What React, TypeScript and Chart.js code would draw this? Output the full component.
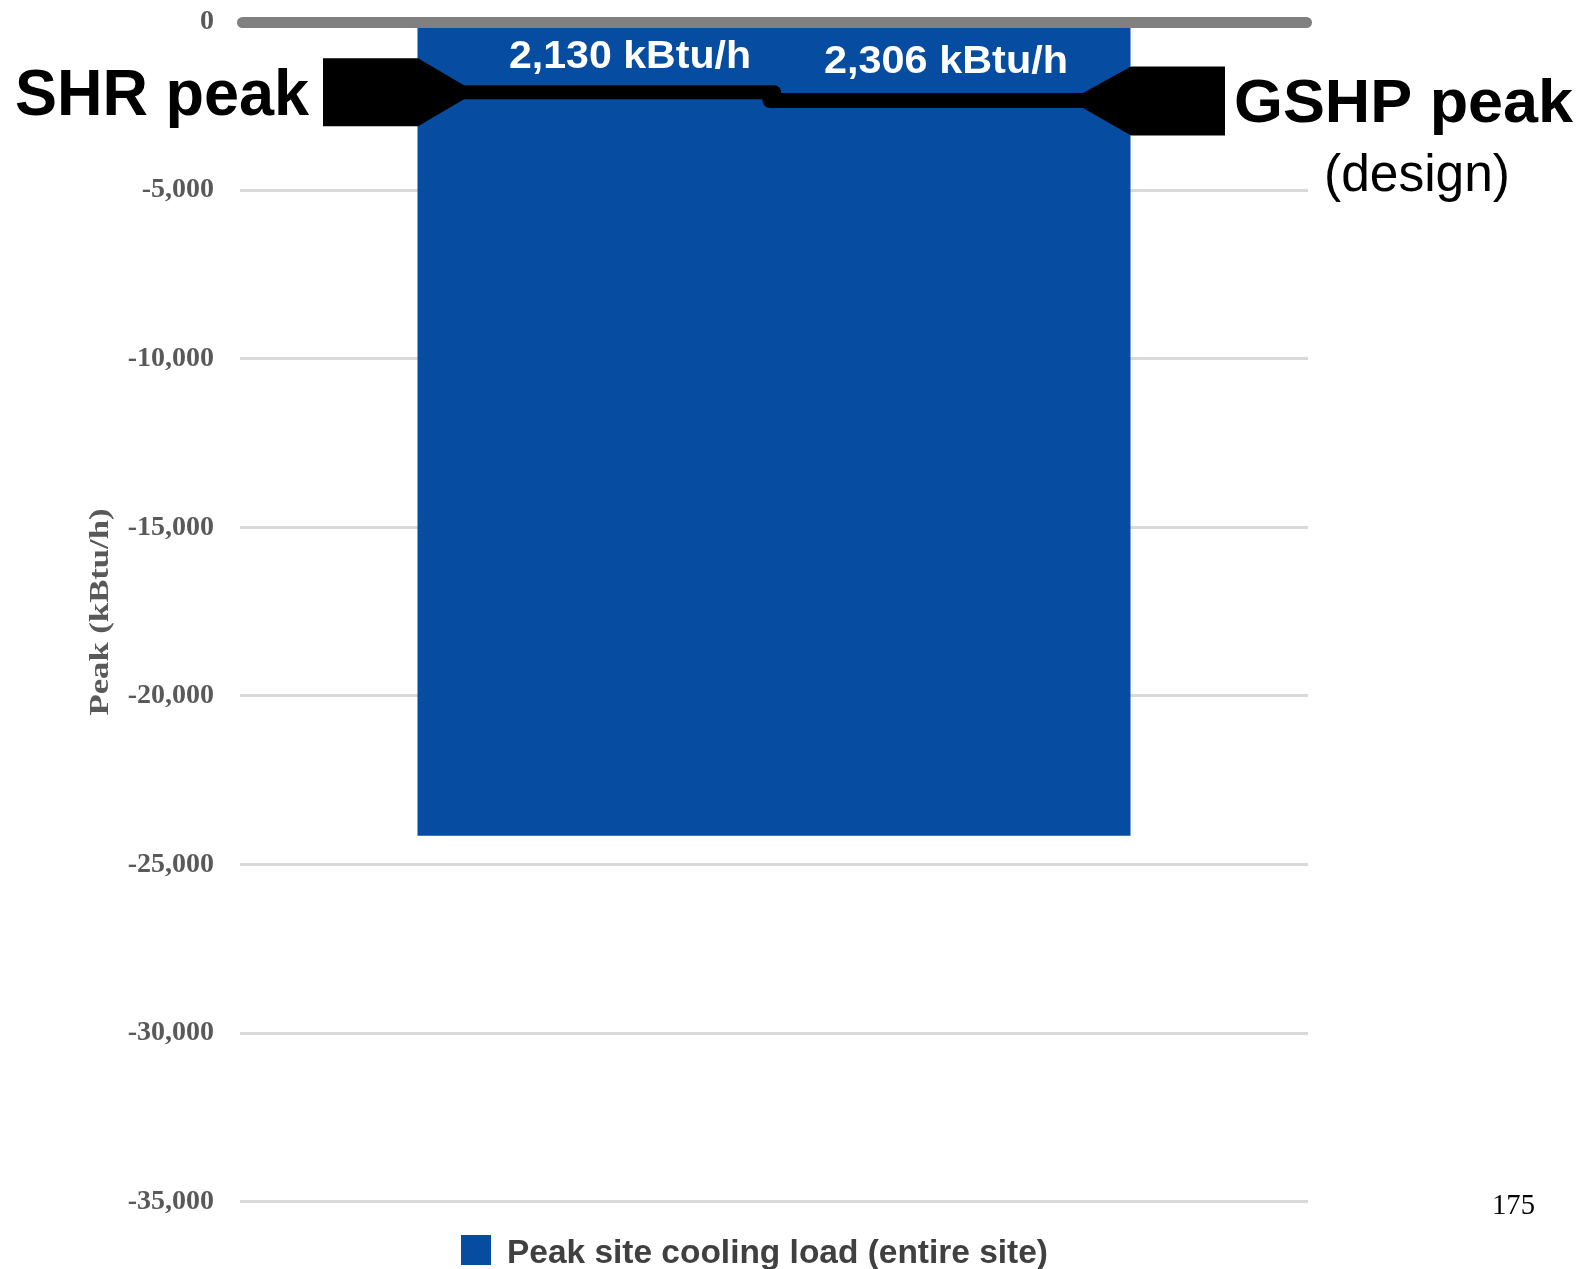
import React, { useEffect, useRef } from "react";
import { Chart, registerables } from "chart.js";

Chart.register(...registerables);

// ---- Data ----
const categories = ["Peak site cooling load (entire site)"];
const seriesLabel = "Peak site cooling load (entire site)";
const seriesValues = [-24150];
const yMin = -35000;
const yMax = 0;
const yStep = 5000;
const yTitle = "Peak (kBtu/h)";

const peakNames = ["SHR peak", "GSHP peak"];
const peakValues = [-2130, -2306];
const peakValueLabels = ["2,130 kBtu/h", "2,306 kBtu/h"];
const peakNote = "(design)";
const pageNumber = "175";

const BAR_COLOR = "#064ca0";

function fitText(
  ctx: CanvasRenderingContext2D,
  text: string,
  x: number,
  y: number,
  width: number,
  font: string,
  color: string
) {
  ctx.save();
  ctx.font = font;
  ctx.fillStyle = color;
  ctx.textAlign = "left";
  ctx.textBaseline = "alphabetic";
  const w = ctx.measureText(text).width;
  ctx.translate(x, y);
  ctx.scale(width / w, 1);
  ctx.fillText(text, 0, 0);
  ctx.restore();
}

const overlayPlugin = {
  id: "overlay",
  afterDatasetsDraw(chart: any) {
    const ctx: CanvasRenderingContext2D = chart.ctx;
    const ys = chart.scales.y;
    const area = chart.chartArea;

    // zero line
    const y0 = ys.getPixelForValue(0);
    ctx.save();
    ctx.strokeStyle = "#808080";
    ctx.lineWidth = 11;
    ctx.lineCap = "round";
    ctx.beginPath();
    ctx.moveTo(area.left + 2.5, y0 + 1);
    ctx.lineTo(area.right - 1.5, y0 + 1);
    ctx.stroke();
    ctx.restore();

    // SHR peak arrow (left)
    const yS = ys.getPixelForValue(peakValues[0]) - 1;
    ctx.save();
    ctx.fillStyle = "#000";
    ctx.beginPath();
    ctx.moveTo(323, yS - 34);
    ctx.lineTo(418, yS - 34);
    ctx.lineTo(464, yS - 7);
    ctx.lineTo(464, yS + 7);
    ctx.lineTo(418, yS + 34);
    ctx.lineTo(323, yS + 34);
    ctx.closePath();
    ctx.fill();
    ctx.strokeStyle = "#000";
    ctx.lineWidth = 14;
    ctx.lineCap = "round";
    ctx.beginPath();
    ctx.moveTo(460, yS);
    ctx.lineTo(774, yS);
    ctx.stroke();

    // GSHP peak arrow (right)
    const yG = ys.getPixelForValue(peakValues[1]) + 1.2;
    ctx.beginPath();
    ctx.moveTo(1225, yG - 34);
    ctx.lineTo(1131, yG - 34);
    ctx.lineTo(1083, yG - 7.5);
    ctx.lineTo(1083, yG + 7.5);
    ctx.lineTo(1131, yG + 35);
    ctx.lineTo(1225, yG + 35);
    ctx.closePath();
    ctx.fill();
    ctx.lineWidth = 15;
    ctx.beginPath();
    ctx.moveTo(770, yG);
    ctx.lineTo(1087, yG);
    ctx.stroke();
    ctx.restore();

    // value labels
    fitText(ctx, peakValueLabels[0], 509, 68, 242, "bold 38px 'Liberation Sans', Arial", "#ffffff");
    fitText(ctx, peakValueLabels[1], 824, 73, 244, "bold 38px 'Liberation Sans', Arial", "#ffffff");

    // names
    fitText(ctx, peakNames[0], 15, 115, 294, "bold 64px 'Liberation Sans', Arial", "#000000");
    fitText(ctx, peakNames[1], 1234, 122, 339, "bold 62px 'Liberation Sans', Arial", "#000000");
    fitText(ctx, peakNote, 1324, 191, 186, "51px 'Liberation Sans', Arial", "#000000");
  },
  afterDraw(chart: any) {
    const ctx: CanvasRenderingContext2D = chart.ctx;

    // y axis title (rotated)
    ctx.save();
    ctx.font = "bold 28px 'Liberation Serif', 'Times New Roman', serif";
    const tw = ctx.measureText(yTitle).width;
    ctx.translate(101, 612);
    ctx.rotate(-Math.PI / 2);
    ctx.scale(207 / tw, 1);
    ctx.fillStyle = "#595959";
    ctx.textAlign = "center";
    ctx.textBaseline = "middle";
    ctx.fillText(yTitle, 0, 0);
    ctx.restore();

    // legend
    ctx.save();
    ctx.fillStyle = BAR_COLOR;
    ctx.fillRect(461, 1235, 30, 30);
    ctx.restore();
    fitText(ctx, seriesLabel, 507, 1263, 541, "bold 34px 'Liberation Sans', Arial", "#404040");

    // page number
    fitText(ctx, pageNumber, 1492, 1214, 43, "30px 'Liberation Serif', 'Times New Roman', serif", "#000000");
  },
};

export default function App() {
  const canvasRef = useRef<HTMLCanvasElement | null>(null);

  useEffect(() => {
    const canvas = canvasRef.current;
    if (!canvas) return;
    const chart = new Chart(canvas, {
      type: "bar",
      data: {
        labels: categories,
        datasets: [
          {
            label: seriesLabel,
            data: seriesValues,
            backgroundColor: BAR_COLOR,
            borderWidth: 0,
            categoryPercentage: 1,
            barPercentage: 0.6676,
          },
        ],
      },
      options: {
        responsive: false,
        animation: false,
        devicePixelRatio: 1,
        layout: {
          padding: { left: 0, right: 272, top: 21.5, bottom: 67.3 },
        },
        plugins: {
          legend: { display: false },
          tooltip: { enabled: false },
          title: { display: false },
        },
        scales: {
          x: { display: false },
          y: {
            min: yMin,
            max: yMax,
            afterFit(scale: any) {
              scale.width = 240;
            },
            border: { display: false },
            grid: {
              color: "#d9d9d9",
              lineWidth: 3,
              drawTicks: true,
              tickLength: 22,
              tickColor: "rgba(0,0,0,0)",
            },
            ticks: {
              stepSize: yStep,
              padding: 4,
              color: "#595959",
              font: {
                family: "'Liberation Serif', 'Times New Roman', serif",
                size: 28,
                weight: "bold",
              },
              callback: (v: any) => Number(v).toLocaleString("en-US"),
            },
          },
        },
      },
      plugins: [overlayPlugin],
    } as any);
    return () => chart.destroy();
  }, []);

  return (
    <div style={{ position: "absolute", left: 0, top: 0, width: 1580, height: 1269, background: "#fff" }}>
      <canvas ref={canvasRef} width={1580} height={1269} style={{ display: "block", width: 1580, height: 1269 }} />
    </div>
  );
}
